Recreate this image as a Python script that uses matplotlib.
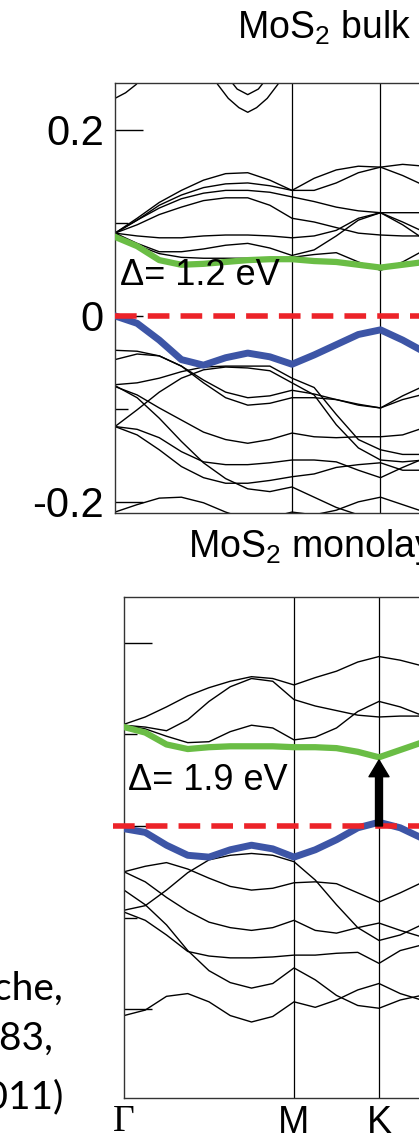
import numpy as np
import matplotlib.pyplot as plt
from matplotlib.patches import FancyArrowPatch

plt.rcParams['font.family'] = ['Liberation Sans', 'DejaVu Sans']
plt.rcParams['mathtext.fontset'] = 'custom'
plt.rcParams['mathtext.rm'] = 'Liberation Sans'
plt.rcParams['mathtext.it'] = 'Liberation Sans:italic'

# k path: Gamma = 0, M = 1, K = 1.5, then back towards Gamma
K_PTS = [0, 0.125, 0.25, 0.375, 0.5, 0.625, 0.75, 0.875, 1.0, 1.125, 1.25, 1.375, 1.5, 1.625, 1.75]
K_TICKS = [0, 1.0, 1.5]
K_LABELS = ['Γ', 'M', 'K']

# ---- bulk (top panel) ----
bulk_cb = [0.085, 0.075, 0.060, 0.055, 0.056, 0.058, 0.060, 0.061, 0.061, 0.059, 0.058, 0.055, 0.052, 0.055, 0.058]
bulk_vb = [0.000, -0.008, -0.026, -0.047, -0.053, -0.045, -0.040, -0.044, -0.052, -0.042, -0.031, -0.020, -0.015, -0.026, -0.039]
bulk_cond = [
    [0.089, 0.076, 0.067, 0.063, 0.062, 0.062, 0.062, 0.062, 0.063, 0.066, 0.068, 0.058, 0.049, 0.058, 0.071],
    [0.089, 0.078, 0.069, 0.069, 0.072, 0.076, 0.078, 0.073, 0.065, 0.071, 0.086, 0.103, 0.111, 0.098, 0.082],
    [0.089, 0.086, 0.084, 0.084, 0.086, 0.087, 0.087, 0.086, 0.084, 0.086, 0.092, 0.105, 0.111, 0.111, 0.111],
    [0.089, 0.098, 0.109, 0.117, 0.124, 0.127, 0.127, 0.119, 0.105, 0.101, 0.095, 0.089, 0.087, 0.086, 0.086],
    [0.089, 0.103, 0.116, 0.126, 0.132, 0.135, 0.135, 0.133, 0.128, 0.123, 0.117, 0.113, 0.111, 0.101, 0.090],
    [0.089, 0.103, 0.119, 0.130, 0.138, 0.142, 0.143, 0.140, 0.135, 0.135, 0.143, 0.154, 0.160, 0.151, 0.140],
    [0.089, 0.105, 0.122, 0.135, 0.146, 0.153, 0.154, 0.146, 0.135, 0.148, 0.157, 0.161, 0.160, 0.163, 0.161],
]
bulk_val = [
    [-0.037, -0.038, -0.043, -0.054, -0.069, -0.082, -0.088, -0.086, -0.080, -0.084, -0.090, -0.096, -0.099, -0.086, -0.075],
    [-0.047, -0.041, -0.043, -0.054, -0.072, -0.088, -0.096, -0.094, -0.088, -0.088, -0.090, -0.095, -0.099, -0.090, -0.084],
    [-0.074, -0.072, -0.067, -0.060, -0.055, -0.054, -0.054, -0.054, -0.067, -0.077, -0.106, -0.133, -0.144, -0.149, -0.149],
    [-0.119, -0.101, -0.082, -0.067, -0.058, -0.055, -0.056, -0.059, -0.072, -0.085, -0.117, -0.142, -0.155, -0.157, -0.155],
    [-0.076, -0.085, -0.099, -0.112, -0.125, -0.133, -0.137, -0.133, -0.126, -0.130, -0.131, -0.130, -0.130, -0.128, -0.120],
    [-0.119, -0.122, -0.131, -0.146, -0.157, -0.160, -0.160, -0.158, -0.155, -0.155, -0.157, -0.166, -0.174, -0.163, -0.153],
    [-0.119, -0.128, -0.144, -0.162, -0.174, -0.180, -0.180, -0.177, -0.173, -0.170, -0.163, -0.160, -0.158, -0.166, -0.166],
    [-0.075, -0.088, -0.110, -0.135, -0.158, -0.175, -0.186, -0.189, -0.184, -0.195, -0.206, -0.214, -0.216, -0.216, -0.216],
    [-0.211, -0.203, -0.196, -0.195, -0.201, -0.211, -0.219, -0.217, -0.211, -0.214, -0.209, -0.200, -0.195, -0.203, -0.211],
]
# high bands only partly inside the window
arc0_k = [0, 0.06, 0.12, 0.17]
arc0_e = [0.234, 0.240, 0.249, 0.262]
arc1_k = [0.53, 0.58, 0.64, 0.70, 0.75, 0.80, 0.86, 0.92, 0.97]
arc1_e = [0.267, 0.249, 0.234, 0.224, 0.219, 0.224, 0.234, 0.249, 0.267]
arc2_k = [0.64, 0.69, 0.75, 0.81, 0.86]
arc2_e = [0.256, 0.244, 0.238, 0.244, 0.256]

# ---- monolayer (bottom panel) ----
mono_cb = [0.108, 0.102, 0.089, 0.084, 0.086, 0.087, 0.087, 0.087, 0.086, 0.086, 0.085, 0.081, 0.075, 0.083, 0.091]
mono_vb = [-0.003, -0.007, -0.021, -0.032, -0.034, -0.026, -0.021, -0.025, -0.034, -0.026, -0.015, -0.002, 0.004, -0.002, -0.013]
mono_cond = [
    [0.110, 0.106, 0.098, 0.091, 0.092, 0.103, 0.110, 0.107, 0.094, 0.097, 0.107, 0.125, 0.136, 0.130, 0.121],
    [0.110, 0.108, 0.104, 0.116, 0.136, 0.152, 0.161, 0.158, 0.138, 0.131, 0.126, 0.121, 0.119, 0.120, 0.120],
    [0.111, 0.119, 0.130, 0.142, 0.151, 0.158, 0.163, 0.161, 0.154, 0.162, 0.169, 0.179, 0.185, 0.181, 0.175],
]
mono_val = [
    [-0.050, -0.044, -0.040, -0.047, -0.057, -0.066, -0.070, -0.068, -0.062, -0.061, -0.063, -0.073, -0.083, -0.073, -0.062],
    [-0.092, -0.087, -0.070, -0.051, -0.037, -0.032, -0.030, -0.032, -0.039, -0.059, -0.086, -0.111, -0.125, -0.119, -0.108],
    [-0.050, -0.061, -0.078, -0.093, -0.105, -0.111, -0.114, -0.111, -0.103, -0.114, -0.117, -0.111, -0.106, -0.114, -0.121],
    [-0.070, -0.086, -0.108, -0.136, -0.158, -0.171, -0.177, -0.172, -0.155, -0.168, -0.185, -0.196, -0.199, -0.190, -0.185],
    [-0.094, -0.103, -0.119, -0.137, -0.142, -0.144, -0.144, -0.143, -0.141, -0.141, -0.139, -0.138, -0.150, -0.136, -0.130],
    [-0.207, -0.201, -0.186, -0.183, -0.192, -0.207, -0.214, -0.208, -0.192, -0.198, -0.190, -0.179, -0.172, -0.183, -0.190],
]
mono_gap_top = 0.072

GREEN = '#6abd45'
BLUE = '#3d55a6'
RED = '#ec2329'

W, H = 419, 1146
fig = plt.figure(figsize=(W / 100, H / 100), dpi=100)


def box(x0, y0, x1, y1):
    return [x0 / W, 1 - y1 / H, (x1 - x0) / W, (y1 - y0) / H]


def setup(ax, ylim, show_labels):
    ax.set_xlim(0, 2.3)
    ax.set_ylim(*ylim)
    for s in ax.spines.values():
        s.set_color('#333333')
        s.set_linewidth(1.0)
    for k in K_TICKS[1:]:
        ax.axvline(k, color='black', lw=0.9, zorder=1)
    ax.set_yticks([-0.2, 0, 0.2])
    ax.set_yticks([-0.1, 0.1], minor=True)
    ax.set_yticklabels(['-0.2', '0', '0.2'])
    ax.tick_params(axis='y', which='major', direction='in', length=20, width=1.0,
                   labelsize=30, pad=8, labelleft=show_labels)
    ax.tick_params(axis='y', which='minor', direction='in', length=9, width=1.0)


def draw_bands(ax, black, val_edge, cond_edge):
    for b in black:
        ax.plot(K_PTS, b, color='black', lw=1.0, zorder=2)
    ax.plot(K_PTS, val_edge, color=BLUE, lw=5, zorder=3)
    ax.plot(K_PTS, cond_edge, color=GREEN, lw=4.5, zorder=3)


# top panel: bulk
ax1 = fig.add_axes(box(115, 83, 115 + 177 * 2.3, 513))
setup(ax1, (-0.212, 0.2505), True)
draw_bands(ax1, bulk_cond + bulk_val, bulk_vb, bulk_cb)
for kk, ee in [(arc0_k, arc0_e), (arc1_k, arc1_e), (arc2_k, arc2_e)]:
    ax1.plot(kk, ee, color='black', lw=1.0, zorder=2)
ax1.plot([0, 2.3], [0, 0], color=RED, lw=4, dashes=(3.9, 2.0), zorder=4)
ax1.set_xticks([])

# bottom panel: monolayer
ax2 = fig.add_axes(box(124, 597, 124 + 170 * 2.3, 1098))
setup(ax2, (-0.297, 0.25), False)
draw_bands(ax2, mono_cond + mono_val, mono_vb, mono_cb)
ax2.plot([-0.065, 2.3], [0, 0], color=RED, lw=4, dashes=(3.9, 2.0), zorder=4, clip_on=False)
ax2.set_xticks(K_TICKS)
ax2.set_xticklabels(K_LABELS)
ax2.tick_params(axis='x', length=0, labelsize=27, pad=5)
ax2.get_xticklabels()[0].set_family('Liberation Serif')

arrow = FancyArrowPatch((K_TICKS[2], 0.0), (K_TICKS[2], mono_gap_top),
                        arrowstyle='simple,head_length=0.6,head_width=0.72,tail_width=0.25',
                        mutation_scale=20, color='black', shrinkA=0, shrinkB=0, zorder=5)
ax2.add_patch(arrow)

# texts
fig.text(237 / W, 1 - 39 / H, 'MoS$_2$ bulk', fontsize=27, va='baseline')
fig.text(188 / W, 1 - 557 / H, 'MoS$_2$ monolayer', fontsize=27, va='baseline')
fig.text(120 / W, 1 - 285 / H, 'Δ= 1.2 eV', fontsize=26, va='baseline', zorder=6)
fig.text(128 / W, 1 - 790 / H, 'Δ= 1.9 eV', fontsize=26, va='baseline', zorder=6)

fig.text(63 / W, 1 - 1000 / H, 'Kuc, Zibouche,', fontsize=28, family='Lato', ha='right', va='baseline')
fig.text(53 / W, 1 - 1050 / H, 'Phys. Rev. B 83,', fontsize=28, family='Lato', ha='right', va='baseline')
fig.text(63 / W, 1 - 1108 / H, '245213 (2011)', fontsize=28, family='Lato', ha='right', va='baseline')

fig.savefig('out.png', dpi=100)
